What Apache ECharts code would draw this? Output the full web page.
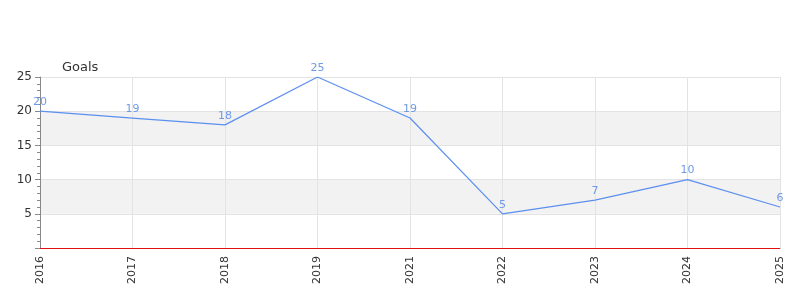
<!DOCTYPE html>
<html><head><meta charset="utf-8">
<script src="https://cdn.jsdelivr.net/npm/echarts@6/dist/echarts.min.js"></script>
<style>html,body{margin:0;padding:0;background:#fff}#c{width:800px;height:300px}</style>
</head><body><div id="c"></div>
<script>
const categories = ['2016','2017','2018','2019','2021','2022','2023','2024','2025'];
const goals = [20, 19, 18, 25, 19, 5, 7, 10, 6];
const yTicks = [0, 5, 10, 15, 20, 25];

const chart = echarts.init(document.getElementById('c'), null, {renderer: 'canvas'});
chart.setOption({
  animation: false,
  grid: {left: 40, right: 20, top: 77, bottom: 52},
  xAxis: {
    type: 'category', data: categories, boundaryGap: false, offset: 1,
    axisLine: {lineStyle: {color: '#666', width: 1}},
    axisTick: {show: false},
    axisLabel: {rotate: 90, color: '#333', fontSize: 11, fontFamily: 'DejaVu Sans', margin: 7},
    splitLine: {show: true, lineStyle: {color: '#e3e3e3'}}
  },
  yAxis: {
    type: 'value', min: yTicks[0], max: yTicks[yTicks.length - 1], interval: 5,
    name: 'Goals', nameLocation: 'end', nameGap: 3,
    nameTextStyle: {color: '#333', fontSize: 13, fontFamily: 'DejaVu Sans', align: 'left', padding: [0, 0, 0, 22]},
    axisLine: {show: true, lineStyle: {color: '#888'}},
    axisTick: {show: true, length: 5, lineStyle: {color: '#888'}},
    minorTick: {show: true, splitNumber: 5, length: 3, lineStyle: {color: '#888'}},
    axisLabel: {color: '#333', fontSize: 12, fontFamily: 'DejaVu Sans', showMinLabel: false, margin: 8},
    splitLine: {show: true, lineStyle: {color: '#e3e3e3'}},
    splitArea: {show: true, areaStyle: {color: ['#ffffff', '#f2f2f2']}}
  },
  series: [{
    type: 'line', data: goals, z: 5,
    symbol: 'circle', symbolSize: 1, showSymbol: true,
    itemStyle: {color: 'rgba(0,0,0,0)', borderWidth: 0},
    lineStyle: {color: '#5b8ff0', width: 1.2},
    label: {show: true, position: 'top', color: '#6f9ae8', fontSize: 11, fontFamily: 'DejaVu Sans', distance: 3},
    markLine: {
      silent: true, symbol: 'none', label: {show: false}, z: 10,
      lineStyle: {color: '#dd1111', type: 'solid', width: 1},
      data: [{yAxis: 0}]
    }
  }]
});
</script></body></html>
